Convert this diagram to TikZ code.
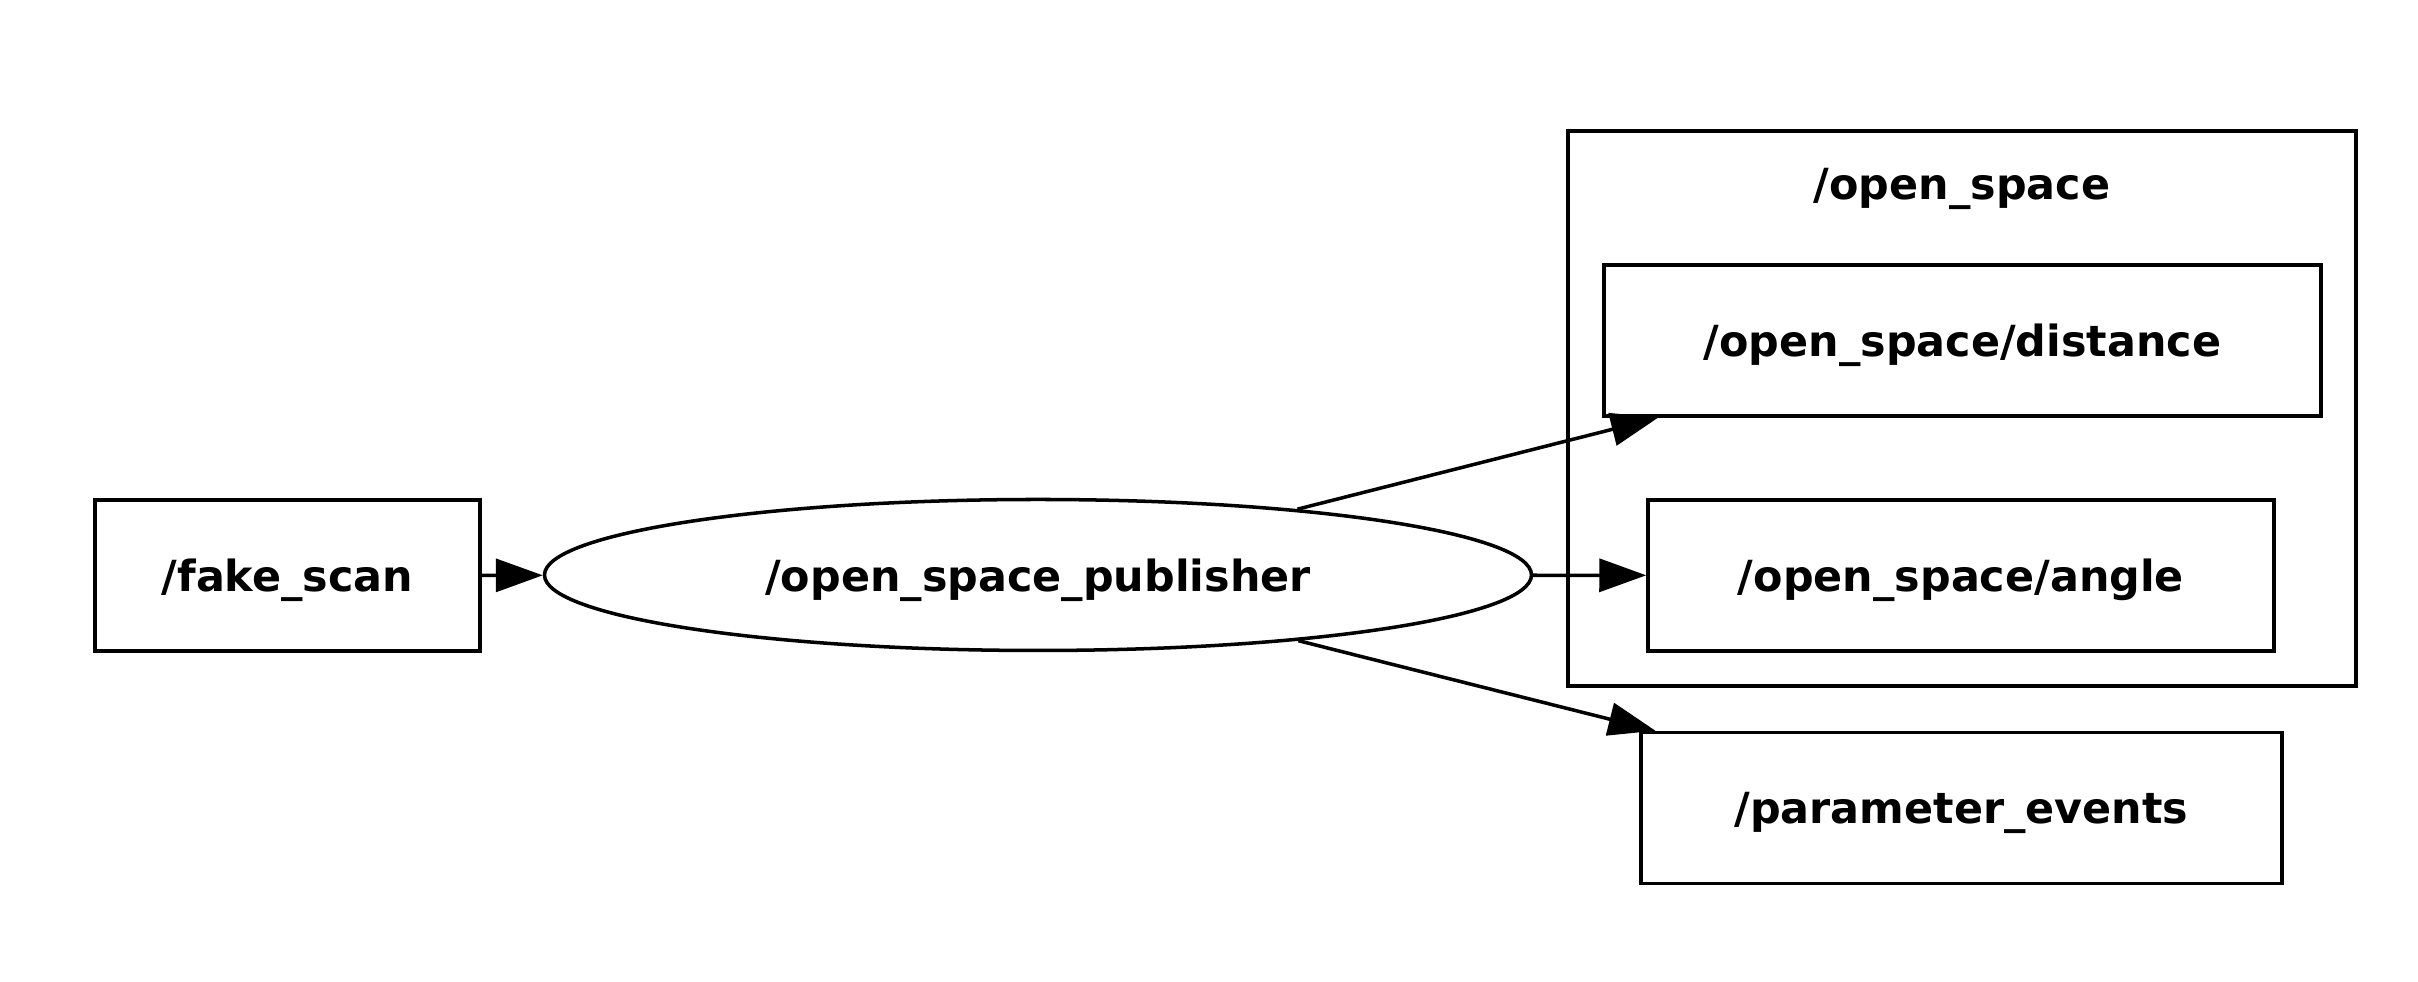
\documentclass[tikz,border=0pt]{standalone}
\usepackage{fontspec}
\setmainfont{DejaVu Sans}
\usetikzlibrary{shapes,arrows.meta}

\begin{document}
\begin{tikzpicture}

\tikzstyle{topicbox} = [draw=black, rectangle, line width=1pt,
    minimum height=1.51cm, inner sep=0, text depth=0pt,
    font=\fontsize{12.2}{14}\selectfont\bfseries]
\tikzstyle{nodeoval} = [draw=black, ellipse, line width=1pt,
    minimum width=9.87cm, minimum height=1.51cm, inner sep=0, text depth=0pt,
    font=\fontsize{12.2}{14}\selectfont\bfseries]
\tikzstyle{nsbox} = [draw=black, rectangle, line width=1pt,
    minimum width=7.88cm, minimum height=5.55cm, inner sep=0]
\tikzstyle{link} = [line width=1pt, -{Triangle[length=4.7mm,width=3.3mm]}]

\useasboundingbox (0,0) rectangle (24.18,9.82);

% =========================
% namespace cluster
% =========================
\node[nsbox] (ns) at (19.62,5.735) {};
\node[text depth=0pt, font=\fontsize{12.2}{14}\selectfont\bfseries] (nslabel) at (19.62,7.98) {/open\_space};

% =========================
% nodes and topics
% =========================
\node[topicbox, minimum width=3.85cm] (scan) at (2.875,4.065) {/fake\_scan};
\node[nodeoval] (pub) at (10.38,4.07) {/open\_space\_publisher};

\node[topicbox, minimum width=7.17cm] (dist) at (19.625,6.415) {/open\_space/distance};
\node[topicbox, minimum width=6.26cm] (angle) at (19.61,4.065) {/open\_space/angle};
\node[topicbox, minimum width=6.41cm] (param) at (19.615,1.74) {/parameter\_events};

% =========================
% arrows
% =========================
\draw[link] (scan) -- (pub);
\draw[link] (pub) -- (dist);
\draw[link] (pub) -- (angle);
\draw[link] (pub) -- (param);

\end{tikzpicture}
\end{document}
